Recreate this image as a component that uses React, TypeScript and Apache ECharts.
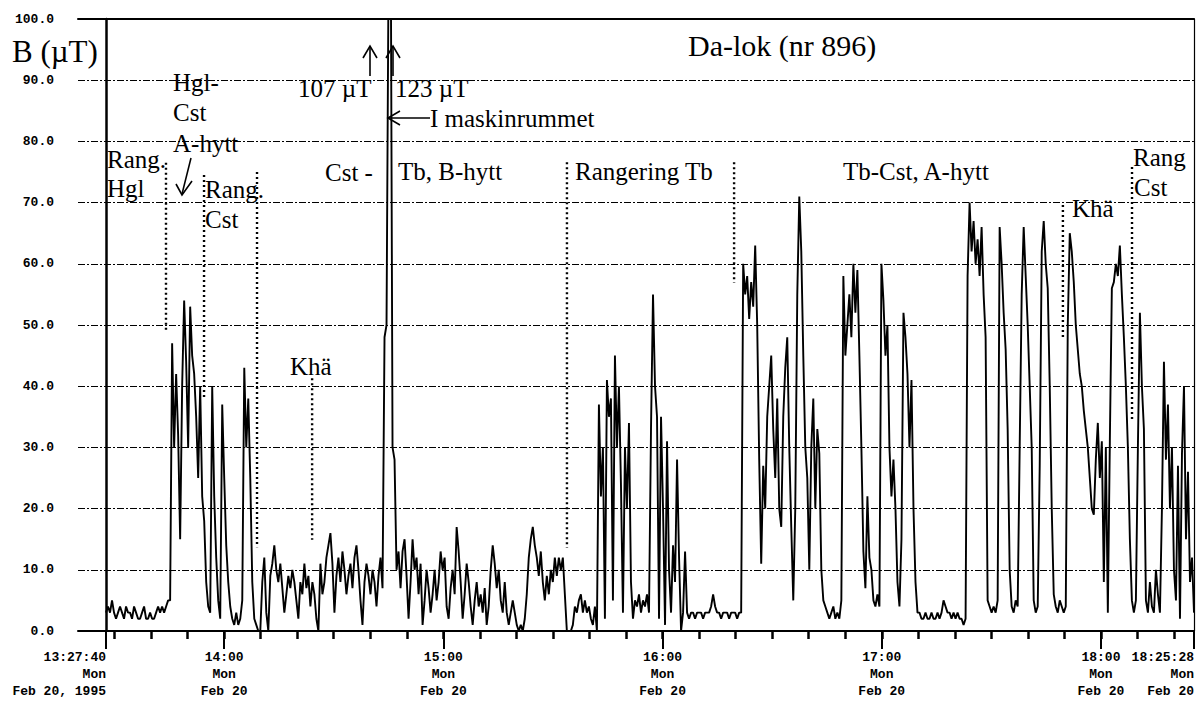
import { useEffect, useRef } from "react";
import * as echarts from "echarts";

// Recording window and tick labels
const START_CLOCK = "13:27:40";
const END_CLOCK = "18:25:28";
const WEEKDAY = "Mon";
const DAY = "Feb 20";
const YEAR = "1995";
const HOUR_TICKS = ["14:00", "15:00", "16:00", "17:00", "18:00"];

// Magnetic flux density B (µT), logged at even intervals over the recording window
const rangHgl = [3, 4, 3, 5, 3, 2, 3, 4, 3, 2, 4, 3, 3, 2, 4, 3, 2, 2, 3, 4, 2, 2, 3, 2, 2, 3, 4, 3, 4, 3, 4, 5];
const hglCst = [5, 47, 30, 42, 32, 15, 40, 54, 44, 30, 53, 45, 42, 35, 25, 40, 22, 18];
const rangCst = [8, 4, 3, 40, 22, 12, 5, 2, 37, 25, 14, 8, 4, 2, 1, 3, 1, 2, 5, 43, 30, 38, 25, 8, 2, 1, 0, 0];
const khaCst = [
  8, 12, 3, 0, 9, 11, 14, 10, 8, 11, 7, 3, 6, 9, 7, 10, 8, 5, 2, 8,
  6, 11, 7, 9, 4, 8, 6, 2, 0, 11, 6, 8, 12, 14, 16, 11, 3, 9, 12, 8,
  13, 10, 6, 9, 11, 7, 12, 14, 10, 5, 1, 8, 11, 9, 6, 10, 8, 4, 9, 12, 7,
];
const maskinrummet = [48, 50, 107, 123, 30, 28];
const tbBhytt = [
  10, 13, 7, 13, 15, 9, 2, 8, 15, 10, 12, 6, 11, 1, 5, 10, 7, 3, 6, 10,
  5, 8, 13, 10, 12, 4, 2, 7, 10, 6, 17, 13, 8, 2, 6, 11, 8, 4, 1, 5,
  8, 4, 6, 3, 7, 1, 4, 10, 14, 11, 7, 10, 5, 3, 8, 3, 1, 3, 5, 3,
  1, 0, 1, 0, 2, 6, 12, 15, 17, 14, 12, 9, 13, 8, 5, 9, 6, 10, 8, 12,
  9, 12, 10, 12, 6,
];
const rangeringTb = [
  0, 0, 0, 1, 4, 3, 5, 6, 3, 5, 3, 4, 2, 1, 4, 0, 37, 22, 30, 2,
  41, 35, 38, 5, 45, 30, 40, 24, 3, 30, 20, 34, 8, 2, 5, 4, 6, 3, 5, 4,
  6, 3, 33, 55, 40, 35, 2, 35, 20, 1, 31, 10, 3, 14, 8, 28, 12, 0, 3, 13,
  3, 2, 3, 3, 2, 3, 3, 3, 2, 3, 3, 3, 4, 6, 4, 3, 3, 2, 3, 3,
  3, 2, 3, 3, 3, 2, 3, 3,
];
const tbCstAhytt = [
  60, 55, 58, 51, 57, 53, 63, 50, 28, 11, 27, 20, 35, 40, 45, 33, 25, 38, 20, 17,
  35, 43, 48, 30, 17, 5, 20, 55, 71, 62, 45, 30, 25, 10, 30, 38, 20, 33, 29, 10,
  5, 4, 3, 2, 3, 4, 2, 3, 2, 5, 58, 45, 50, 55, 48, 60, 52, 59, 45, 30,
  13, 7, 22, 12, 10, 5, 4, 6, 4, 60, 54, 45, 50, 30, 22, 28, 20, 8, 4, 15,
  52, 48, 42, 30, 41, 20, 8, 3, 3, 2, 2, 3, 2, 2, 3, 2, 2, 3, 2, 3,
  5, 4, 3, 3, 2, 3, 2, 3, 2, 2, 1, 2, 58, 70, 62, 67, 60, 64, 58, 66,
  55, 48, 5, 4, 3, 4, 3, 5, 66, 60, 52, 46, 33, 10, 4, 3, 5, 4, 30, 55,
  66, 58, 50, 40, 30, 5, 3, 4, 27, 62, 67, 60, 56, 40, 20, 6, 4, 3, 5, 4,
  3, 4,
];
const khaEvening = [
  50, 65, 62, 57, 50, 46, 42, 40, 36, 33, 30, 25, 20, 19, 28, 34, 25, 31, 8, 30,
  3, 31, 56, 57, 60, 58, 63, 55, 48, 40, 30, 15, 5,
];
const rangCstEvening = [
  3, 5, 30, 52, 40, 33, 5, 3, 8, 4, 3, 10, 6, 3, 20, 44, 28, 37, 20, 30,
  10, 5, 27, 2, 29, 40, 15, 26, 8, 12, 3,
];

// Section boundaries (dotted verticals): clock time and the µT span each one covers
const boundaryTimes = ["13:44:05", "13:54:30", "14:09:00", "14:24:05", "15:33:50", "16:19:35", "17:49:35", "18:08:30"];
const boundaryTop = [76.5, 74.5, 75, 41.3, 76.6, 76.6, 69.6, 75.8];
const boundaryBottom = [48.9, 38, 13.7, 14.9, 13.6, 56.9, 47.9, 34.5];

const AXIS_FONT = '"Liberation Mono", "DejaVu Sans Mono", monospace';
const SERIF = '"Liberation Serif", "Times New Roman", serif';

const toSeconds = (clock: string) => {
  const [h, m, s = 0] = clock.split(":").map(Number);
  return h * 3600 + m * 60 + s;
};

const T0 = toSeconds(START_CLOCK);
const T_END = toSeconds(END_CLOCK) - T0;
const LEAD = 460; // empty room left of the first reading, in seconds

const readings = [
  ...rangHgl, ...hglCst, ...rangCst, ...khaCst, ...maskinrummet,
  ...tbBhytt, ...rangeringTb, ...tbCstAhytt, ...khaEvening, ...rangCstEvening,
];
const trace = readings.map((v, i) => [(i * T_END) / (readings.length - 1), v]);

const hourValues = HOUR_TICKS.map((c) => toSeconds(c) - T0);
const tenMinuteValues: number[] = [];
for (let s = Math.ceil(T0 / 600) * 600; s <= T0 + T_END; s += 600) tenMinuteValues.push(s - T0);

const hourLabel = (v: number) => {
  const idx = hourValues.findIndex((h) => Math.abs(h - v) < 1);
  return `${HOUR_TICKS[idx]}\n${WEEKDAY}\n${DAY}`;
};
const edgeLabel = (v: number) =>
  v < 1 ? `${START_CLOCK}\n${WEEKDAY}\n${DAY}, ${YEAR}` : `${END_CLOCK}\n${WEEKDAY}\n${DAY}`;

const tickText = {
  fontFamily: AXIS_FONT,
  fontSize: 13,
  fontWeight: "bold" as const,
  color: "#000",
  lineHeight: 17,
};

const xBase = { type: "value" as const, min: -LEAD, max: T_END, splitLine: { show: false } };

const note = (text: string, x: number, baseline: number, size = 25) => ({
  type: "text",
  x,
  y: baseline - size * 0.34,
  silent: true,
  style: {
    text,
    fill: "#000",
    fontFamily: SERIF,
    fontSize: size,
    align: "left",
    verticalAlign: "middle",
  },
});

const stroke = { stroke: "#000", lineWidth: 1.6, fill: null };
const seg = (x1: number, y1: number, x2: number, y2: number) => ({
  type: "line",
  silent: true,
  shape: { x1, y1, x2, y2 },
  style: stroke,
});
const head = (points: number[][]) => ({
  type: "polyline",
  silent: true,
  shape: { points },
  style: stroke,
});

function buildOption() {
  return {
    animation: false,
    backgroundColor: "#fff",
    grid: { left: 78, right: 6, top: 19, bottom: 71, containLabel: false, outerBoundsMode: "none" },
    xAxis: [
      {
        ...xBase,
        position: "bottom",
        axisLine: { show: true, onZero: false, lineStyle: { color: "#000", width: 2 } },
        axisTick: { show: true, customValues: tenMinuteValues, length: 8, lineStyle: { color: "#000", width: 2.5 } },
        axisLabel: { show: true, customValues: hourValues, formatter: hourLabel, margin: 18, align: "center", ...tickText },
      },
      {
        ...xBase,
        position: "bottom",
        axisLine: { show: false, onZero: false },
        axisTick: { show: true, customValues: [0, ...hourValues, T_END], length: 18, lineStyle: { color: "#000", width: 2 } },
        axisLabel: { show: false },
      },
      {
        ...xBase,
        position: "bottom",
        axisLine: { show: false, onZero: false },
        axisTick: { show: false },
        axisLabel: { show: true, customValues: [0, T_END], formatter: edgeLabel, margin: 18, align: "right", ...tickText },
      },
      {
        ...xBase,
        position: "top",
        axisLine: { show: true, onZero: false, lineStyle: { color: "#000", width: 2 } },
        axisTick: { show: false },
        axisLabel: { show: false },
      },
    ],
    yAxis: [
      {
        type: "value",
        min: 0,
        max: 100,
        interval: 10,
        position: "left",
        axisLine: { show: true, onZero: true, lineStyle: { color: "#000", width: 2.5 } },
        axisTick: { show: false },
        axisLabel: {
          formatter: (v: number) => v.toFixed(1),
          margin: 24,
          fontFamily: AXIS_FONT,
          fontSize: 13,
          fontWeight: "bold",
          color: "#000",
        },
        splitLine: { show: true, lineStyle: { color: "#000", width: 1.1, type: [7, 2, 2, 2] } },
      },
      {
        type: "value",
        min: 0,
        max: 100,
        position: "right",
        axisLine: { show: true, onZero: false, lineStyle: { color: "#000", width: 1.2 } },
        axisTick: { show: false },
        axisLabel: { show: false },
        splitLine: { show: false },
      },
    ],
    series: [
      {
        type: "line",
        data: trace,
        symbol: "none",
        clip: true,
        silent: true,
        z: 3,
        lineStyle: { color: "#000", width: 1.9 },
      },
      ...boundaryTimes.map((c, k) => ({
        type: "line",
        data: [
          [toSeconds(c) - T0, boundaryTop[k]],
          [toSeconds(c) - T0, boundaryBottom[k]],
        ],
        symbol: "none",
        silent: true,
        z: 4,
        lineStyle: { color: "#000", width: 2.4, type: [2, 3] },
      })),
    ],
    graphic: {
      elements: [
        note("B (µT)", 12, 62, 31),
        note("Da-lok (nr 896)", 688, 56, 30),
        note("Rang.", 107, 168),
        note("Hgl", 107, 197),
        note("Hgl-", 173, 91),
        note("Cst", 173, 121),
        note("A-hytt", 173, 152),
        note("Rang.", 205, 198),
        note("Cst", 205, 228),
        note("Khä", 290, 375),
        note("107 µT", 298, 97),
        note("123 µT", 395, 97),
        note("I maskinrummet", 430, 127),
        note("Cst -", 325, 181),
        note("Tb, B-hytt", 398, 180),
        note("Rangering Tb", 575, 180),
        note("Tb-Cst, A-hytt", 843, 180),
        note("Khä", 1072, 217),
        note("Rang", 1133, 166),
        note("Cst", 1134, 196),
        seg(370, 46, 370, 76),
        head([[363, 58], [370, 46], [377, 58]]),
        seg(393, 46, 393, 76),
        head([[386, 58], [393, 46], [400, 58]]),
        seg(191, 158, 182, 194),
        head([[176, 184], [182, 195], [192, 181]]),
        seg(388, 118, 430, 118),
        head([[400, 111], [388, 118], [400, 125]]),
      ],
    },
  };
}

export default function App() {
  const ref = useRef<HTMLDivElement>(null);
  useEffect(() => {
    if (!ref.current) return;
    const chart = echarts.init(ref.current, null, { renderer: "svg" });
    chart.setOption(buildOption() as any);
    return () => chart.dispose();
  }, []);
  return (
    <div
      ref={ref}
      style={{ position: "fixed", left: 0, top: 0, width: 1200, height: 702, background: "#fff" }}
    />
  );
}
